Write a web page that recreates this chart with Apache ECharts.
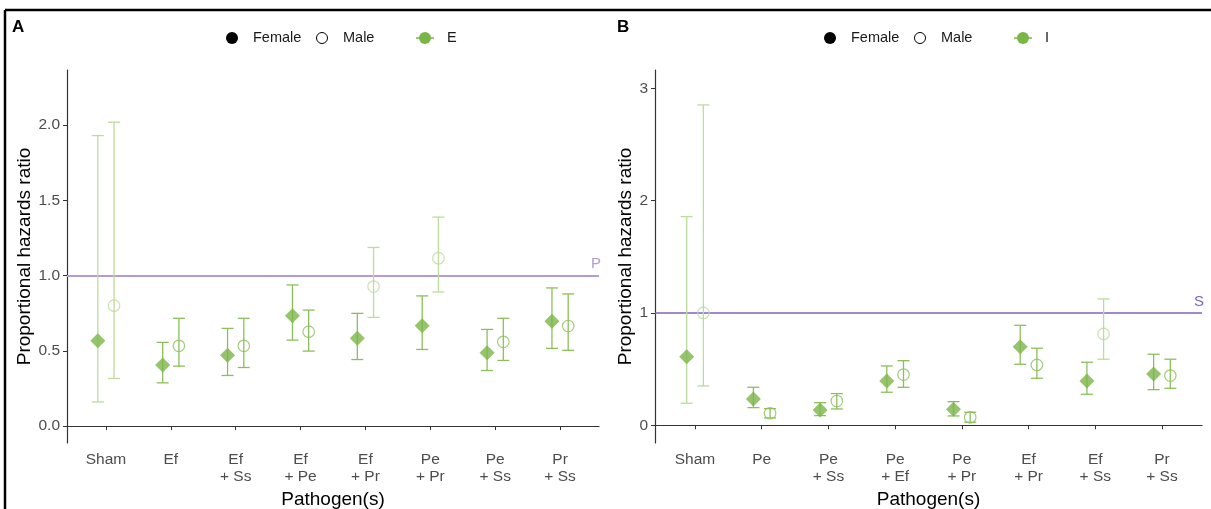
<!DOCTYPE html>
<html>
<head>
<meta charset="utf-8">
<script src="https://cdn.jsdelivr.net/npm/echarts@6/dist/echarts.min.js"></script>
<style>
html,body{margin:0;padding:0;background:#fff;}
#chart{width:1211px;height:509px;}
</style>
</head>
<body>
<div id="chart"></div>
<script>
// ---------- Data ----------
const catsA = ['Sham', 'Ef', 'Ef\n+ Ss', 'Ef\n+ Pe', 'Ef\n+ Pr', 'Pe\n+ Pr', 'Pe\n+ Ss', 'Pr\n+ Ss'];
const femaleA   = [0.567, 0.405, 0.471, 0.733, 0.583, 0.667, 0.487, 0.696];
const femaleALo = [0.160, 0.287, 0.336, 0.571, 0.442, 0.509, 0.369, 0.516];
const femaleAHi = [1.931, 0.556, 0.649, 0.938, 0.749, 0.865, 0.642, 0.918];
const maleA     = [0.800, 0.533, 0.533, 0.627, 0.927, 1.116, 0.560, 0.665];
const maleALo   = [0.316, 0.398, 0.389, 0.498, 0.722, 0.891, 0.436, 0.503];
const maleAHi   = [2.020, 0.716, 0.716, 0.771, 1.187, 1.389, 0.716, 0.878];
const ticksA = [0, 0.5, 1, 1.5, 2];

const catsB = ['Sham', 'Pe', 'Pe\n+ Ss', 'Pe\n+ Ef', 'Pe\n+ Pr', 'Ef\n+ Pr', 'Ef\n+ Ss', 'Pr\n+ Ss'];
const femaleB   = [0.611, 0.234, 0.136, 0.394, 0.142, 0.700, 0.394, 0.457];
const femaleBLo = [0.196, 0.157, 0.086, 0.294, 0.083, 0.543, 0.276, 0.317];
const femaleBHi = [1.858, 0.338, 0.201, 0.528, 0.210, 0.890, 0.561, 0.632];
const maleB     = [1.000, 0.107, 0.216, 0.451, 0.071, 0.537, 0.813, 0.442];
const maleBLo   = [0.350, 0.065, 0.145, 0.338, 0.027, 0.418, 0.588, 0.329];
const maleBHi   = [2.852, 0.148, 0.282, 0.575, 0.116, 0.686, 1.125, 0.588];
const ticksB = [0, 1, 2, 3];

const refValue = 1;

// ---------- Styles ----------
const FONT = "'Liberation Sans', Arial, sans-serif";
const GREEN = '#7ab547';
const BAR_DARK = '#8cbf5c';
const BAR_LIGHT = '#bcdb9c';
const DODGE = 0.125;
const DIAMOND = 'path://M0,-10 L10,0 L0,10 L-10,0 Z';

function sig(lo, hi) { return (lo <= refValue && hi >= refValue) ? 0 : 1; }

function barData(lo, hi, off) {
  return lo.map((l, i) => [i + 1 + off, l, hi[i], sig(l, hi[i])]);
}
function pointData(v, lo, hi, off, male) {
  return v.map((y, i) => {
    const c = sig(lo[i], hi[i]) ? BAR_DARK : BAR_LIGHT;
    return male
      ? { value: [i + 1 + off, y], itemStyle: { color: 'rgba(0,0,0,0)', borderColor: c, borderWidth: 1.2 } }
      : { value: [i + 1 + off, y] };
  });
}

function renderBar(params, api) {
  const x = api.value(0), lo = api.value(1), hi = api.value(2), s = api.value(3);
  const a = api.coord([x, lo]), b = api.coord([x, hi]);
  const w = 6;
  const st = { stroke: s ? BAR_DARK : BAR_LIGHT, lineWidth: 1.3 };
  return {
    type: 'group',
    children: [
      { type: 'line', shape: { x1: a[0], y1: a[1], x2: b[0], y2: b[1] }, style: st },
      { type: 'line', shape: { x1: a[0] - w, y1: a[1], x2: a[0] + w, y2: a[1] }, style: st },
      { type: 'line', shape: { x1: b[0] - w, y1: b[1], x2: b[0] + w, y2: b[1] }, style: st }
    ]
  };
}

function xAxisFor(idx, cats) {
  return {
    type: 'value', gridIndex: idx, min: 0.4, max: 8.6,
    name: 'Pathogen(s)', nameLocation: 'middle', nameGap: 37,
    nameTextStyle: { color: '#000', fontSize: 19, fontFamily: FONT },
    axisLine: { show: true, lineStyle: { color: '#333', width: 1.2 } },
    axisTick: { show: true, length: 4, lineStyle: { color: '#333' }, customValues: [1,2,3,4,5,6,7,8] },
    axisLabel: { color: '#4d4d4d', fontSize: 15.5, fontFamily: FONT, margin: 8, lineHeight: 17,
      customValues: [1,2,3,4,5,6,7,8], formatter: v => cats[Math.round(v) - 1] || '' },
    splitLine: { show: false }
  };
}
function yAxisFor(idx, min, max, ticks, dec, gap) {
  return {
    type: 'value', gridIndex: idx, min: min, max: max,
    name: 'Proportional hazards ratio', nameLocation: 'middle', nameGap: gap,
    nameTextStyle: { color: '#000', fontSize: 19, fontFamily: FONT },
    axisLine: { show: true, lineStyle: { color: '#333', width: 1.2 } },
    axisTick: { show: true, length: 4, lineStyle: { color: '#333' }, customValues: ticks },
    axisLabel: { color: '#4d4d4d', fontSize: 15.5, fontFamily: FONT, margin: 7,
      customValues: ticks, formatter: v => v.toFixed(dec) },
    splitLine: { show: false }
  };
}

function panelSeries(idx, fv, flo, fhi, mv, mlo, mhi, refColor, refLabel, refWidth) {
  return [
    { type: 'custom', xAxisIndex: idx, yAxisIndex: idx, renderItem: renderBar,
      encode: { x: 0, y: [1, 2] }, data: barData(flo, fhi, -DODGE), z: 2, silent: true,
      markLine: { silent: true, symbol: 'none', z: 1,
        lineStyle: { color: refColor, width: refWidth, type: 'solid' },
        label: { show: true, position: 'insideEndTop', formatter: refLabel, color: refColor,
          fontSize: 15, fontFamily: FONT, distance: [-2, 4] },
        data: [{ yAxis: refValue }] } },
    { type: 'custom', xAxisIndex: idx, yAxisIndex: idx, renderItem: renderBar,
      encode: { x: 0, y: [1, 2] }, data: barData(mlo, mhi, DODGE), z: 2, silent: true },
    { type: 'scatter', xAxisIndex: idx, yAxisIndex: idx, symbol: DIAMOND, symbolSize: [15, 15],
      itemStyle: { color: GREEN }, data: pointData(fv, flo, fhi, -DODGE, false), z: 3 },
    { type: 'scatter', xAxisIndex: idx, yAxisIndex: idx, symbol: 'circle', symbolSize: 11.5,
      data: pointData(mv, mlo, mhi, DODGE, true), z: 3 }
  ];
}

function legendGraphics(x0, label) {
  const y = 38;
  const ts = (x, t) => ({ type: 'text', left: x, top: y - 8,
    style: { text: t, fill: '#1a1a1a', font: '14.5px ' + FONT } });
  return [
    { type: 'circle', shape: { cx: x0, cy: y, r: 6 }, style: { fill: '#000' } },
    ts(x0 + 21, 'Female'),
    { type: 'circle', shape: { cx: x0 + 90, cy: y, r: 5.5 }, style: { fill: '#fff', stroke: '#000', lineWidth: 1 } },
    ts(x0 + 111, 'Male'),
    { type: 'line', shape: { x1: x0 + 184, y1: y, x2: x0 + 202, y2: y }, style: { stroke: GREEN, lineWidth: 1.5 } },
    { type: 'circle', shape: { cx: x0 + 193, cy: y, r: 6 }, style: { fill: GREEN } },
    ts(x0 + 215, label)
  ];
}

const chart = echarts.init(document.getElementById('chart'));
chart.setOption({
  animation: false,
  backgroundColor: '#fff',
  textStyle: { fontFamily: FONT },
  grid: [
    { left: 67, right: 612, top: 70, bottom: 66, containLabel: false, outerBoundsMode: 'none' },
    { left: 655, right: 9, top: 70, bottom: 66, containLabel: false, outerBoundsMode: 'none' }
  ],
  xAxis: [xAxisFor(0, catsA), xAxisFor(1, catsB)],
  yAxis: [
    yAxisFor(0, -0.113, 2.367, ticksA, 1, 30.5),
    yAxisFor(1, -0.158, 3.163, ticksB, 0, 17)
  ],
  series: [
    ...panelSeries(0, femaleA, femaleALo, femaleAHi, maleA, maleALo, maleAHi, '#b39ad9', 'P', 2),
    ...panelSeries(1, femaleB, femaleBLo, femaleBHi, maleB, maleBLo, maleBHi, '#8163bf', 'S', 1.5)
  ],
  graphic: [
    { type: 'line', shape: { x1: 5, y1: 10, x2: 1211, y2: 10 }, style: { stroke: '#000', lineWidth: 2.5 } },
    { type: 'line', shape: { x1: 5, y1: 10, x2: 5, y2: 509 }, style: { stroke: '#000', lineWidth: 2.5 } },
    { type: 'text', left: 12, top: 19, style: { text: 'A', fill: '#000', font: 'bold 17px ' + FONT } },
    { type: 'text', left: 617, top: 19, style: { text: 'B', fill: '#000', font: 'bold 17px ' + FONT } },
    ...legendGraphics(232, 'E'),
    ...legendGraphics(830, 'I')
  ]
});
</script>
</body>
</html>
